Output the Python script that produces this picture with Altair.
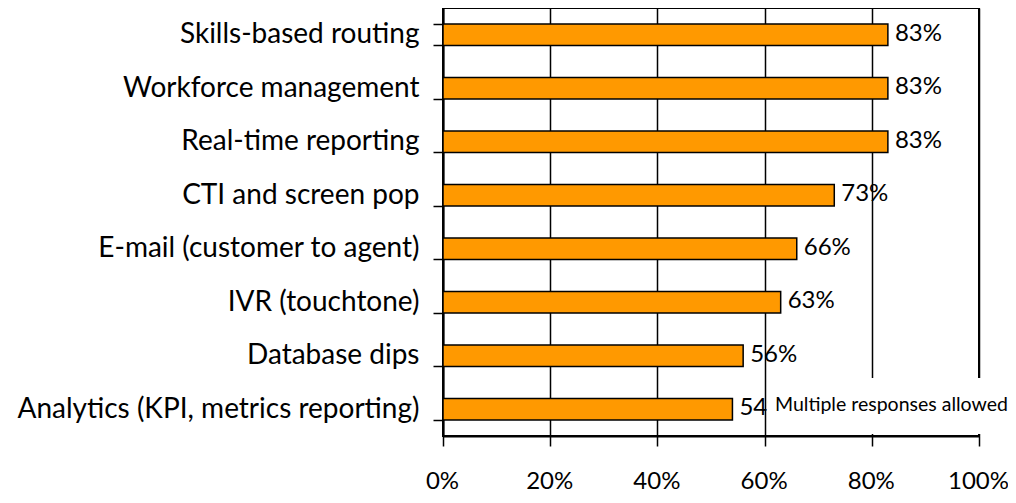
import altair as alt
import pandas as pd

categories = [
    "Skills-based routing",
    "Workforce management",
    "Real-time reporting",
    "CTI and screen pop",
    "E-mail (customer to agent)",
    "IVR (touchtone)",
    "Database dips",
    "Analytics (KPI, metrics reporting)",
]
values = [83, 83, 83, 73, 66, 63, 56, 54]
x_ticks = [0, 20, 40, 60, 80, 100]
note = "Multiple responses allowed"

FONT = "Lato"

df = pd.DataFrame({"feature": categories, "pct": values})

y_enc = alt.Y(
    "feature:N",
    sort=categories,
    title=None,
    scale=alt.Scale(paddingInner=0.6, paddingOuter=0.3),
    axis=alt.Axis(
        labelFont=FONT, labelFontSize=28, labelColor="black", labelPadding=14,
        labelLimit=600, tickSize=10, tickColor="black", tickWidth=1.5,
        domainColor="black", domainWidth=2, tickBand="extent", grid=False,
    ),
)
x_enc = alt.X(
    "pct:Q",
    title=None,
    scale=alt.Scale(domain=[0, 100], nice=False),
    axis=alt.Axis(
        values=x_ticks, labelExpr="datum.value + '%'", grid=True,
        gridColor="black", gridWidth=1.5, gridOpacity=1,
        tickSize=10, tickColor="black", tickWidth=1.5,
        domainColor="black", domainWidth=2,
        labelFont=FONT, labelFontSize=24, labelColor="black",
        labelBaseline="alphabetic", labelPadding=42, labelOffset=-1,
        labelFlush=False, labelOverlap=False,
    ),
)

bars = alt.Chart(df).mark_bar(color="#FF9900", stroke="black", strokeWidth=1.5).encode(
    x=x_enc, y=y_enc
)

labels = alt.Chart(df).transform_calculate(
    lab="datum.pct + '%'"
).mark_text(
    align="left", baseline="middle", dx=7, dy=-1, font=FONT, fontSize=24, color="black"
).encode(
    x=alt.X("pct:Q"),
    y=alt.Y("feature:N", sort=categories),
    text="lab:N",
)

note_df = pd.DataFrame({"note": [note]})
box = alt.Chart(note_df).mark_rect(fill="white").encode(
    x=alt.value(325), x2=alt.value(565), y=alt.value(370), y2=alt.value(426)
)
note_text = alt.Chart(note_df).mark_text(
    align="left", baseline="alphabetic", font=FONT, fontSize=19.5, color="black"
).encode(x=alt.value(332), y=alt.value(403), text="note:N")

chart = alt.layer(bars, labels, box, note_text).properties(
    width=536,
    height=428,
    autosize="none",
    padding={"left": 435, "top": 0, "right": 29, "bottom": 59},
).configure_view(stroke="black", strokeWidth=2)

chart.save("out.html", embed_options={"renderer": "svg", "actions": False})
